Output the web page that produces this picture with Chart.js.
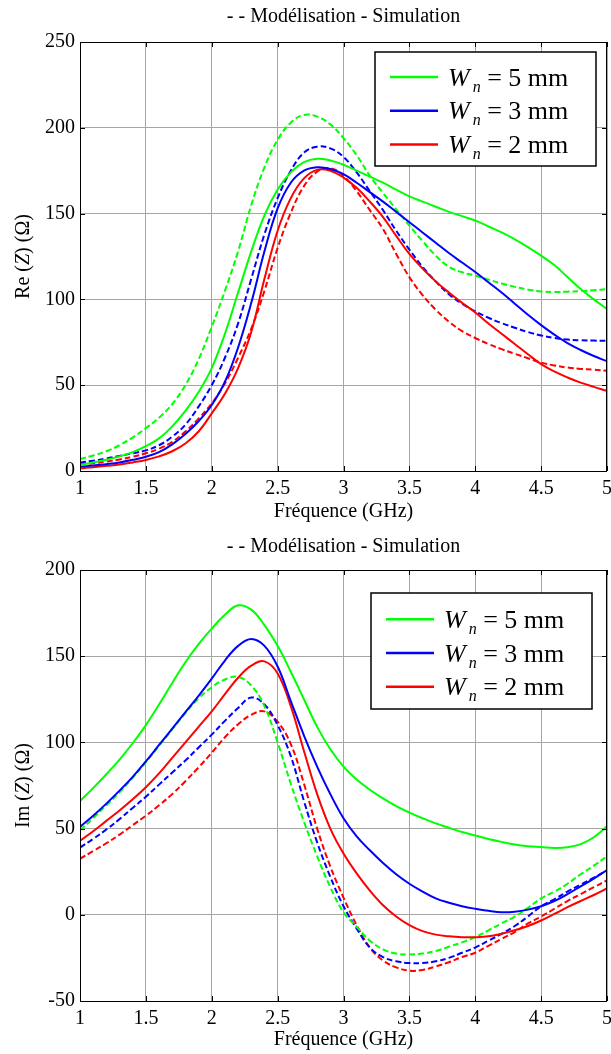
<!DOCTYPE html>
<html>
<head>
<meta charset="utf-8">
<script src="https://cdn.jsdelivr.net/npm/chart.js@4.4.1/dist/chart.umd.min.js"></script>
<style>
  html, body { margin: 0; padding: 0; background: #fff; }
  .panel { position: absolute; left: 0; width: 611px; }
  #rePanel { top: 0; height: 530px; }
  #imPanel { top: 530px; height: 524px; }
</style>
</head>
<body>
<div class="panel" id="rePanel"><canvas id="reChart"></canvas></div>
<div class="panel" id="imPanel"><canvas id="imChart"></canvas></div>
<script>
// Frequency samples (GHz)
const freqGHz = [
  1.0, 1.1, 1.2, 1.3, 1.4, 1.5, 1.6, 1.7, 1.8, 1.9,
  2.0, 2.1, 2.2, 2.3, 2.4, 2.5, 2.6, 2.7, 2.8, 2.9,
  3.0, 3.1, 3.2, 3.3, 3.4, 3.5, 3.6, 3.7, 3.8, 3.9,
  4.0, 4.1, 4.2, 4.3, 4.4, 4.5, 4.6, 4.7, 4.8, 4.9,
  5.0
];

const widthLabels = ['5 mm', '3 mm', '2 mm'];
const xTicks = [1, 1.5, 2, 2.5, 3, 3.5, 4, 4.5, 5];
const reTicks = [0, 50, 100, 150, 200, 250];
const imTicks = [-50, 0, 50, 100, 150, 200];

// Re(Z), simulation (solid)
const reSim5 = [3.5, 5, 6.5, 8.5, 11, 14.5, 19, 26, 35, 46,
  60, 80, 104, 128, 149, 164, 174, 180, 182, 181,
  178.5, 175, 171.5, 168, 164, 160, 157, 154, 151, 148.5,
  146, 142.5, 139, 135, 130.5, 125.5, 120, 113, 106, 100,
  94.4];
const reSim3 = [2.5, 3.2, 4, 5, 6.5, 8.3, 11, 15.5, 21.5, 29,
  38.5, 52, 72, 98, 128, 153, 168, 175, 177, 176,
  173, 168, 162.5, 157, 151, 145, 139, 133, 127, 121.5,
  116, 110, 104, 97.5, 91, 85, 79.5, 74.5, 70.5, 67,
  64];
const reSim2 = [1.5, 2.2, 3, 3.8, 5, 6.4, 8.5, 11.5, 16, 23,
  33.6, 45, 60, 81, 112, 140, 159, 170.5, 175.5, 175,
  171, 165, 157, 148, 137, 126.5, 118, 110.5, 104, 98,
  92.4, 86, 80, 74, 68, 62.3, 58, 54.5, 51.5, 49,
  46.7];

// Re(Z), modelling (dashed)
const reMod5 = [7, 9, 11.5, 15, 19.5, 25, 31, 39, 50, 65,
  84, 105, 128, 155, 177, 193, 203, 207.5, 206.5, 202,
  194, 184, 172, 162, 152.5, 143, 134, 125.5, 119, 115.8,
  113.8, 111.5, 109.3, 107.3, 105.7, 104.6, 104.3, 104.5, 104.8, 105.3,
  106];
const reMod3 = [5, 6, 7.3, 8.8, 10.3, 12, 15, 20, 27, 37.5,
  50, 66, 86, 112, 138, 159, 175, 185.5, 189, 188,
  183, 174, 163, 152, 140, 129, 119, 110.5, 103, 97.5,
  93, 89.3, 86.2, 83.5, 81, 79, 77.5, 76.6, 76.2, 76,
  75.9];
const reMod2 = [3.9, 4.5, 5.5, 6.7, 8.3, 10.3, 13, 17, 23, 30.5,
  39.4, 51, 66, 83, 105, 130, 150.5, 166, 174.5, 176.5,
  172, 163, 152, 141, 126.5, 113, 102.5, 94, 87, 81.5,
  77.5, 74, 71, 68.3, 65.7, 63.2, 61.5, 60.3, 59.5, 59,
  58.4];

// Im(Z), simulation (solid)
const imSim5 = [66, 73.5, 81.5, 90, 99.5, 110, 122, 134.5, 146.5, 157,
  166, 174, 179.5, 177, 168, 156, 141, 125, 109, 96,
  86, 78.5, 72.5, 67.5, 63, 59.3, 56, 53, 50.5, 48,
  46, 44, 42.3, 40.8, 39.8, 39.3, 38.8, 39.2, 41, 45,
  51.3];
const imSim3 = [51, 57.5, 64.5, 72, 80, 89, 98.5, 108, 117.5, 127,
  137, 147.5, 156, 160, 156, 144, 124, 104, 86, 70,
  56, 45.5, 37.4, 30, 23.5, 18, 13.5, 9.5, 7, 5,
  3.5, 2.3, 1.5, 1.8, 3, 5, 8, 12, 16.5, 21,
  26];
const imSim2 = [43, 48.5, 54.5, 60.5, 67, 74, 82, 91, 100, 109,
  118, 128, 137.5, 144.5, 147, 140, 121, 95, 70, 50,
  35.5, 24, 14, 5.5, -1, -6, -9.5, -11.5, -12.5, -13,
  -13, -12.5, -11, -9, -6.5, -3.3, 0.5, 4.4, 8, 11.5,
  15.3];

// Im(Z), modelling (dashed)
const imMod5 = [49, 56, 63.5, 71, 79.5, 88.5, 98, 107.5, 117, 125.5,
  132, 136.5, 138, 133, 121, 100, 76, 54, 34, 16,
  1.5, -7, -15, -20, -22.5, -23, -22.5, -21, -18.5, -16,
  -13, -9, -5, -1, 4, 9.5, 13.5, 18, 23.5, 28.5,
  34];
const imMod3 = [39, 44, 49.5, 55.5, 62, 68.5, 75.5, 82.5, 89.5, 97,
  104.5, 112.5, 120, 126, 122, 110, 92, 66, 42, 22,
  5, -8, -19, -24.5, -27, -28, -28, -27, -25, -22,
  -19, -15, -11, -6.5, -1, 5, 9, 13.5, 17.5, 21.5,
  25.8];
const imMod2 = [32.5, 37, 41.5, 46.5, 52, 57.5, 63.5, 70, 77.5, 85.5,
  94, 103, 110.5, 116, 118, 112, 99, 76, 50, 28,
  10, -6, -19, -26.5, -30.5, -32.4, -32, -30, -27.5, -24.5,
  -22, -18, -14, -10, -5, -1, 3.5, 8, 12, 16,
  20];

const FONT = "'Liberation Serif', 'Times New Roman', serif";
const SERIES_COLORS = ['#00ff00', '#0000ff', '#ff0000'];
const GRID_COLOR = '#a6a6a6';

Chart.defaults.font.family = FONT;
Chart.defaults.color = '#000';

/**
 * Pairs the frequency samples with a list of values.
 * @param {number[]} values - One value per frequency sample.
 * @returns {Object[]} Points for a linear x scale.
 */
function toPoints(values) {
  return freqGHz.map((f, i) => ({ x: f, y: values[i] }));
}

/**
 * Builds the six line datasets of one panel.
 * @param {number[][]} sim - Simulation curves (solid).
 * @param {number[][]} mod - Modelling curves (dashed).
 * @returns {Object[]} Chart.js datasets.
 */
function buildDatasets(sim, mod) {
  const line = (values, i, dashed) => ({
    label: (dashed ? 'Modélisation ' : 'Simulation ') + widthLabels[i],
    legendText: dashed ? null : widthLabels[i],
    data: toPoints(values),
    borderColor: SERIES_COLORS[i],
    borderWidth: 2,
    borderDash: dashed ? [6, 3] : [],
    pointRadius: 0,
    tension: 0.4,
    fill: false
  });
  return [
    ...sim.map((v, i) => line(v, i, false)),
    ...mod.map((v, i) => line(v, i, true))
  ];
}

// Black box round the plot with small inward tick marks on every side
const framePlugin = {
  id: 'frame',
  afterDraw(chart) {
    const { ctx, chartArea: a, scales } = chart;
    ctx.save();
    ctx.strokeStyle = '#000';
    ctx.lineWidth = 1;
    ctx.strokeRect(a.left + 0.5, a.top + 0.5, a.right - a.left - 1, a.bottom - a.top);
    ctx.beginPath();
    scales.x.ticks.forEach(t => {
      const px = Math.round(scales.x.getPixelForValue(t.value)) + 0.5;
      ctx.moveTo(px, a.bottom); ctx.lineTo(px, a.bottom - 5);
      ctx.moveTo(px, a.top); ctx.lineTo(px, a.top + 5);
    });
    scales.y.ticks.forEach(t => {
      const py = Math.round(scales.y.getPixelForValue(t.value)) + 0.5;
      ctx.moveTo(a.left, py); ctx.lineTo(a.left + 5, py);
      ctx.moveTo(a.right, py); ctx.lineTo(a.right - 5, py);
    });
    ctx.stroke();
    ctx.restore();
  }
};

// Title line above the plot, centred on the plot area
const headerPlugin = {
  id: 'header',
  afterDraw(chart, args, opts) {
    const { ctx, chartArea: a } = chart;
    ctx.save();
    ctx.font = `20px ${FONT}`;
    ctx.fillStyle = '#000';
    ctx.textAlign = 'center';
    ctx.textBaseline = 'middle';
    ctx.fillText(opts.text, (a.left + a.right) / 2, opts.y);
    ctx.restore();
  }
};

// Vertical axis name with an italic Z
const yNamePlugin = {
  id: 'yName',
  afterDraw(chart, args, opts) {
    const { ctx, chartArea: a } = chart;
    const parts = [[opts.prefix + ' (', false], ['Z', true], [') (\u03A9)', false]];
    ctx.save();
    ctx.fillStyle = '#000';
    ctx.textBaseline = 'middle';
    ctx.translate(opts.x, (a.top + a.bottom) / 2);
    ctx.rotate(-Math.PI / 2);
    const fontOf = italic => `${italic ? 'italic ' : ''}20px ${FONT}`;
    let total = 0;
    parts.forEach(([txt, it]) => { ctx.font = fontOf(it); total += ctx.measureText(txt).width; });
    let x = -total / 2;
    parts.forEach(([txt, it]) => {
      ctx.font = fontOf(it);
      ctx.fillText(txt, x, 0);
      x += ctx.measureText(txt).width;
    });
    ctx.restore();
  }
};

// Boxed legend: "W_n = ... mm" with italic W and subscript n
const wnLegendPlugin = {
  id: 'wnLegend',
  afterDraw(chart, args, opts) {
    const { ctx } = chart;
    const entries = chart.data.datasets.filter(d => d.legendText);
    ctx.save();
    ctx.fillStyle = '#fff';
    ctx.fillRect(opts.x, opts.y, opts.w, opts.h);
    ctx.strokeStyle = '#000';
    ctx.lineWidth = 1.5;
    ctx.strokeRect(opts.x, opts.y, opts.w, opts.h);
    entries.forEach((d, i) => {
      const ly = opts.y + opts.firstRow + i * opts.rowGap;
      ctx.strokeStyle = d.borderColor;
      ctx.lineWidth = 2.5;
      ctx.beginPath();
      ctx.moveTo(opts.x + 15, ly);
      ctx.lineTo(opts.x + 63, ly);
      ctx.stroke();
      ctx.fillStyle = '#000';
      ctx.textBaseline = 'alphabetic';
      let tx = opts.x + 73;
      const base = ly + 8.5;
      ctx.font = `italic 26px ${FONT}`;
      ctx.fillText('W', tx, base);
      tx += ctx.measureText('W').width + 3;
      ctx.font = `italic 16px ${FONT}`;
      ctx.fillText('n', tx, base + 6);
      tx += ctx.measureText('n').width;
      ctx.font = `26px ${FONT}`;
      ctx.fillText(' = ' + d.legendText, tx, base);
    });
    ctx.restore();
  }
};

/**
 * Generates one impedance panel inside a given canvas element.
 * @param {string} canvasId - The ID of the canvas element.
 * @param {Object} cfg - Data and layout for this panel.
 * @returns {Chart} The created Chart.js instance.
 */
function generatePanel(canvasId, cfg) {
  const canvas = document.getElementById(canvasId);
  if (!canvas) {
    console.error(`Canvas with ID "${canvasId}" not found.`);
    return null;
  }

  return new Chart(canvas, {
    type: 'line',
    data: { datasets: buildDatasets(cfg.sim, cfg.mod) },
    options: {
      responsive: true,
      maintainAspectRatio: false,
      animation: false,
      layout: {
        autoPadding: false,
        padding: { top: cfg.plotTop, right: 4, left: 0, bottom: 0 }
      },
      scales: {
        x: {
          type: 'linear',
          min: 1,
          max: 5,
          afterBuildTicks: s => { s.ticks = xTicks.map(v => ({ value: v })); },
          afterFit: s => {
            s.height = cfg.xAxisHeight;
            s.paddingLeft = 0;
            s.paddingRight = 0;
          },
          grid: { color: GRID_COLOR, lineWidth: 1, drawTicks: false },
          border: { display: false },
          ticks: {
            font: { size: 20 },
            padding: 6,
            color: '#000',
            maxRotation: 0,
            callback: value => String(value)
          },
          title: {
            display: true,
            text: 'Fréquence (GHz)',
            font: { size: 20 },
            color: '#000',
            padding: { top: 0, bottom: cfg.xTitlePad }
          }
        },
        y: {
          type: 'linear',
          min: cfg.yTicks[0],
          max: cfg.yTicks[cfg.yTicks.length - 1],
          afterBuildTicks: s => { s.ticks = cfg.yTicks.map(v => ({ value: v })); },
          afterFit: s => {
            s.width = 80;
            s.paddingTop = 0;
            s.paddingBottom = 0;
          },
          grid: { color: GRID_COLOR, lineWidth: 1, drawTicks: false },
          border: { display: false },
          ticks: { font: { size: 20 }, padding: 5, color: '#000', callback: value => String(value) }
        }
      },
      plugins: {
        legend: { display: false },
        tooltip: { enabled: false },
        header: { text: '- - Modélisation - Simulation', y: 17 },
        yName: { prefix: cfg.yPrefix, x: 24 },
        wnLegend: cfg.legend
      }
    },
    plugins: [framePlugin, headerPlugin, yNamePlugin, wnLegendPlugin]
  });
}

generatePanel('reChart', {
  sim: [reSim5, reSim3, reSim2],
  mod: [reMod5, reMod3, reMod2],
  yTicks: reTicks,
  yPrefix: 'Re',
  plotTop: 42,
  xAxisHeight: 59,
  xTitlePad: 6,
  legend: { x: 375, y: 52, w: 221, h: 114, firstRow: 25, rowGap: 33.7 }
});

generatePanel('imChart', {
  sim: [imSim5, imSim3, imSim2],
  mod: [imMod5, imMod3, imMod2],
  yTicks: imTicks,
  yPrefix: 'Im',
  plotTop: 40,
  xAxisHeight: 53,
  xTitlePad: 2,
  legend: { x: 371, y: 63, w: 221, h: 116, firstRow: 26.3, rowGap: 33.7 }
});
</script>
</body>
</html>
